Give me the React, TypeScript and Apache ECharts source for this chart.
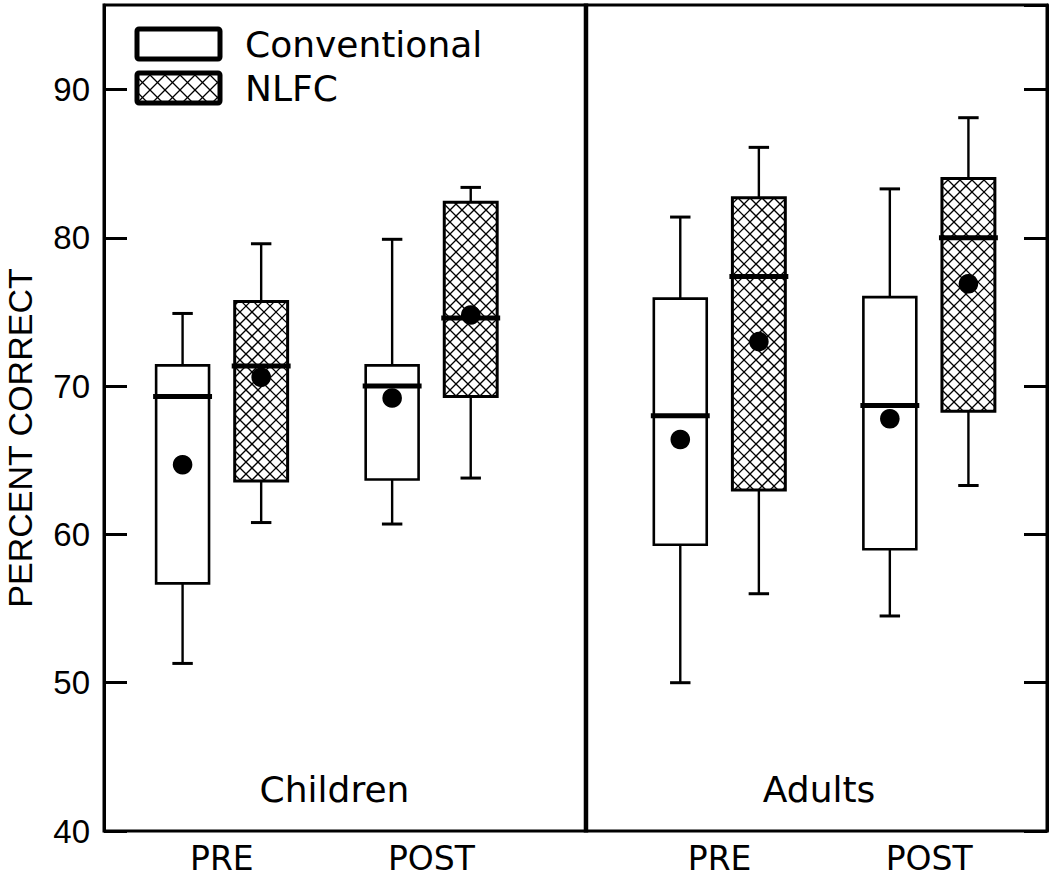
import React, { useEffect, useRef } from 'react';
import * as echarts from 'echarts';

// ---- data ----
const panels = ['Children', 'Adults'];
const panelLabelX = [8.8, 27.3];
const panelLabelY = 42.8;
const sessionLabels = ['PRE', 'POST', 'PRE', 'POST'];
const sessionLabelX = [4.5, 12.5, 23.5, 31.5];
const devices = ['Conventional', 'NLFC'];
// order: Children PRE Conv, Children PRE NLFC, Children POST Conv, Children POST NLFC, Adults ...
const boxX = [3, 6, 11, 14, 22, 25, 30, 33];
const boxDevice = [0, 1, 0, 1, 0, 1, 0, 1];
const boxMin = [51.3, 60.8, 60.7, 63.8, 50.0, 56.0, 54.5, 63.3];
const boxQ1 = [56.7, 63.6, 63.7, 69.3, 59.3, 63.0, 59.0, 68.3];
const boxMedian = [69.3, 71.35, 70.0, 74.6, 68.0, 77.4, 68.7, 80.0];
const boxQ3 = [71.4, 75.7, 71.4, 82.4, 75.9, 82.7, 76.0, 84.0];
const boxMax = [74.9, 79.6, 79.9, 83.4, 81.4, 86.1, 83.3, 88.1];
const boxMean = [64.7, 70.6, 69.2, 74.8, 66.4, 73.0, 67.8, 76.9];
const yTicks = [40, 50, 60, 70, 80, 90];
const Y_MIN = 40;
const Y_MAX = 95.7;
const X_MIN = 0;
const X_MAX = 36;
const DIVIDER_X = 18.4;
const BOX_W = 2.02;
const CAP_W = 0.78;

const LABEL_FONT = 'DejaVu Sans';
const TICK_FONT = 'Liberation Sans';

function hatch(x0: number, y0: number, x1: number, y1: number, p: number) {
  const segs: number[][] = [];
  const cMin = y0 - x1, cMax = y1 - x0;
  for (let c = Math.ceil(cMin / p) * p; c <= cMax; c += p) {
    const xs = Math.max(x0, y0 - c), xe = Math.min(x1, y1 - c);
    if (xe > xs) segs.push([xs, xs + c, xe, xe + c]);
  }
  const dMin = x0 + y0, dMax = x1 + y1;
  for (let c = Math.ceil(dMin / p) * p; c <= dMax; c += p) {
    const xs = Math.max(x0, c - y1), xe = Math.min(x1, c - y0);
    if (xe > xs) segs.push([xs, c - xs, xe, c - xe]);
  }
  return segs;
}

function hatchEls(x0: number, y0: number, x1: number, y1: number, p: number) {
  return hatch(x0, y0, x1, y1, p).map((s) => ({
    type: 'line',
    shape: { x1: s[0], y1: s[1], x2: s[2], y2: s[3] },
    style: { stroke: '#000', lineWidth: 1.3 },
    silent: true,
  }));
}

export default function App() {
  const ref = useRef<HTMLDivElement>(null);
  useEffect(() => {
    if (!ref.current) return;
    const chart = echarts.init(ref.current, undefined, { renderer: 'svg' });

    const boxData = boxX.map((x, i) => [x, boxMin[i], boxQ1[i], boxMedian[i], boxQ3[i], boxMax[i], boxMean[i], boxDevice[i]]);

    const renderBox = (params: any, api: any) => {
      const x = api.value(0);
      const cx = api.coord([x, api.value(5)])[0];
      const yMaxP = api.coord([x, api.value(5)])[1];
      const yQ3 = api.coord([x, api.value(4)])[1];
      const yMed = api.coord([x, api.value(3)])[1];
      const yQ1 = api.coord([x, api.value(2)])[1];
      const yMinP = api.coord([x, api.value(1)])[1];
      const yMean = api.coord([x, api.value(6)])[1];
      const hatched = api.value(7) === 1;
      const w = api.size([BOX_W, 0])[0];
      const cw = api.size([CAP_W, 0])[0];
      const l = cx - w / 2, r = cx + w / 2;
      const st = { stroke: '#000', lineWidth: 2.4 };
      const children: any[] = [
        { type: 'line', shape: { x1: cx, y1: yMaxP, x2: cx, y2: yQ3 }, style: st },
        { type: 'line', shape: { x1: cx - cw / 2, y1: yMaxP, x2: cx + cw / 2, y2: yMaxP }, style: { stroke: '#000', lineWidth: 3 } },
        { type: 'line', shape: { x1: cx, y1: yQ1, x2: cx, y2: yMinP }, style: st },
        { type: 'line', shape: { x1: cx - cw / 2, y1: yMinP, x2: cx + cw / 2, y2: yMinP }, style: { stroke: '#000', lineWidth: 3 } },
        { type: 'rect', shape: { x: l, y: yQ3, width: w, height: yQ1 - yQ3 }, style: { fill: '#fff', stroke: 'none' } },
      ];
      if (hatched) children.push(...hatchEls(l, yQ3, r, yQ1, 12));
      children.push(
        { type: 'rect', shape: { x: l, y: yQ3, width: w, height: yQ1 - yQ3 }, style: { fill: 'none', stroke: '#000', lineWidth: hatched ? 3 : 2.6 } },
        { type: 'line', shape: { x1: l - 3, y1: yMed, x2: r + 3, y2: yMed }, style: { stroke: '#000', lineWidth: 5 } },
        { type: 'circle', shape: { cx, cy: yMean, r: 9.8 }, style: { fill: '#000' } }
      );
      return { type: 'group', children };
    };

    const renderSession = (params: any, api: any) => {
      const p = api.coord([api.value(0), Y_MIN]);
      return {
        type: 'text',
        x: p[0],
        y: p[1] + 27,
        style: { text: sessionLabels[params.dataIndex], align: 'center', verticalAlign: 'middle', fontFamily: LABEL_FONT, fontSize: 33, fill: '#000' },
      };
    };

    const renderPanel = (params: any, api: any) => {
      const p = api.coord([api.value(0), api.value(1)]);
      return {
        type: 'text',
        x: p[0],
        y: p[1],
        style: { text: panels[params.dataIndex], align: 'center', verticalAlign: 'middle', fontFamily: LABEL_FONT, fontSize: 36, fill: '#000' },
      };
    };

    const renderDivider = (params: any, api: any) => {
      const a = api.coord([api.value(0), Y_MIN]);
      const b = api.coord([api.value(0), Y_MAX]);
      return { type: 'line', shape: { x1: a[0], y1: a[1] + 1.5, x2: b[0], y2: b[1] - 1.5 }, style: { stroke: '#000', lineWidth: 4.5 } };
    };

    const legendEls: any[] = [];
    const legX = 137, legW = 83, legH = 30;
    const legY = [29, 73];
    devices.forEach((d, i) => {
      legendEls.push({ type: 'rect', shape: { x: legX, y: legY[i], width: legW, height: legH }, style: { fill: '#fff' } });
      if (i === 1) legendEls.push(...hatchEls(legX, legY[i], legX + legW, legY[i] + legH, 15));
      legendEls.push({ type: 'rect', shape: { x: legX, y: legY[i], width: legW, height: legH, r: 2 }, style: { fill: 'none', stroke: '#000', lineWidth: 5 } });
      legendEls.push({ type: 'text', x: 245, y: legY[i] + legH / 2, style: { text: d, align: 'left', verticalAlign: 'middle', fontFamily: LABEL_FONT, fontSize: 36, fill: '#000' } });
    });

    const yAxisCommon = {
      type: 'value',
      min: Y_MIN,
      max: Y_MAX,
      interval: 10,
      splitLine: { show: false },
      axisLine: { show: true, lineStyle: { color: '#000', width: 3 } },
      axisTick: { show: true, inside: true, length: 23, lineStyle: { color: '#000', width: 3 } },
    };

    chart.setOption({
      animation: false,
      grid: { left: 104, right: 3, top: 5, bottom: 47, show: true, borderColor: '#000', borderWidth: 3, backgroundColor: 'transparent' },
      xAxis: {
        type: 'value', min: X_MIN, max: X_MAX,
        axisLine: { show: false }, axisTick: { show: false }, axisLabel: { show: false }, splitLine: { show: false },
      },
      yAxis: [
        {
          ...yAxisCommon,
          position: 'left',
          axisLabel: {
            show: true, margin: 14, fontFamily: TICK_FONT, fontSize: 33, color: '#000',
            showMaxLabel: false,
            formatter: (v: number) => (yTicks.includes(v) ? String(v) : ''),
          },
        },
        { ...yAxisCommon, position: 'right', axisLabel: { show: false } },
      ],
      graphic: [
        ...legendEls,
        {
          type: 'text', x: 20, y: 438, rotation: Math.PI / 2,
          style: { text: 'PERCENT CORRECT', align: 'center', verticalAlign: 'middle', fontFamily: TICK_FONT, fontSize: 34, fill: '#000' },
        },
      ],
      series: [
        { type: 'custom', name: 'divider', data: [[DIVIDER_X, Y_MIN]], renderItem: renderDivider, encode: { x: 0, y: 1 }, silent: true },
        { type: 'custom', name: 'boxes', data: boxData, renderItem: renderBox, encode: { x: 0, y: [1, 2, 3, 4, 5, 6] }, silent: true },
        { type: 'custom', name: 'sessions', data: sessionLabelX.map((x) => [x, Y_MIN]), renderItem: renderSession, encode: { x: 0, y: 1 }, silent: true, clip: false },
        { type: 'custom', name: 'panels', data: panelLabelX.map((x) => [x, panelLabelY]), renderItem: renderPanel, encode: { x: 0, y: 1 }, silent: true, clip: false },
      ],
    });
    return () => chart.dispose();
  }, []);
  return <div ref={ref} style={{ position: 'fixed', left: 0, top: 0, width: 1050, height: 878, background: '#fff' }} />;
}
